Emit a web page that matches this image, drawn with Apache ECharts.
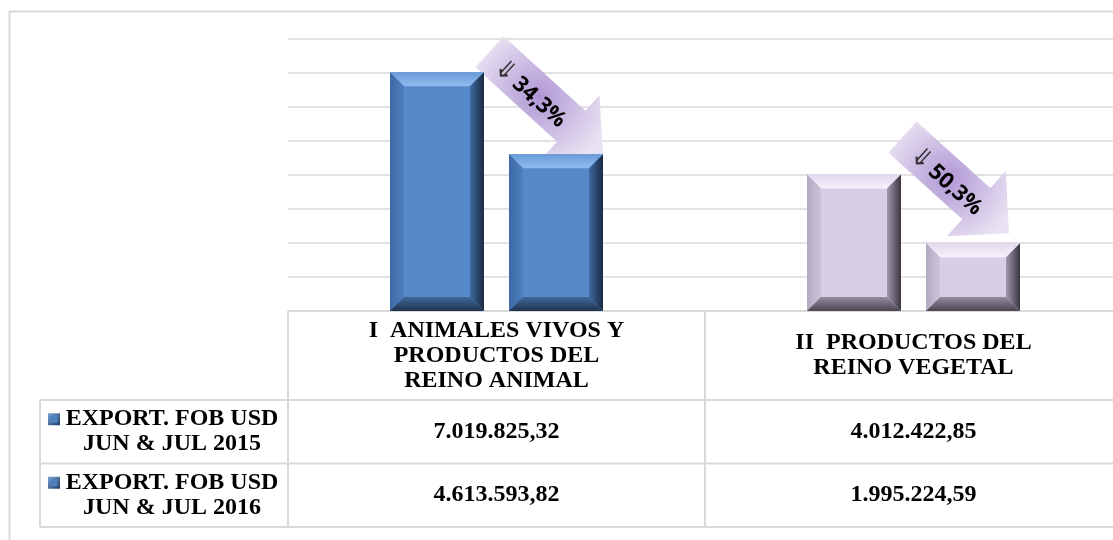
<!DOCTYPE html>
<html><head><meta charset="utf-8">
<style>html,body{margin:0;padding:0;background:#fff}#chart{width:1113px;height:540px}</style>
<script src="https://cdn.jsdelivr.net/npm/echarts@6.0.0/dist/echarts.min.js"></script>
</head><body><div id="chart"></div>
<script>
// ---------------- data ----------------
const categories = ['I  ANIMALES VIVOS Y\nPRODUCTOS DEL\nREINO ANIMAL', 'II  PRODUCTOS DEL\nREINO VEGETAL'];
const seriesNames = ['EXPORT. FOB USD\nJUN & JUL 2015', 'EXPORT. FOB USD\nJUN & JUL 2016'];
const exports2015 = [7019825.32, 4012422.85];
const exports2016 = [4613593.82, 1995224.59];
const yMin = 0, yMax = 8000000, yInterval = 1000000;

// ---------------- layout / style ----------------
const GRID = {left: 288, top: 39, width: 834, height: 272};
const TABLE = {left: 40, headerH: 89, rowH: 63.5};
const BAR_FRAC = 0.2254, GAP_FRAC = 0.06, BEVEL = 14;
const SERIF = '"Liberation Serif", "Times New Roman", serif';
const FS = 24;
const LINE = '#d9d9d9';
const barPalettes = [
  {face:'#5589c9', top:['#6a9bd8','#8fbcf0'], left:['#3d6aa3','#4d80c0'], right:['#3f6aa0','#1a2a42'], bottom:['#406898','#1f3350']},
  {face:'#d8cfe6', top:['#e2d9ee','#f7f2fc'], left:['#b3a9c1','#cdc3da'], right:['#a198ad','#3a3540'], bottom:['#958ca0','#4b4551']}
];
const arrowLayout = [
  {tail:[5.5,-20.5], tip:[0,1], shaftHalf:21, headHalf:42, headLen:43, textAt:58, textOff:4},
  {tail:[1.5,-37.5], tip:[-11,-10], shaftHalf:21, headHalf:44, headLen:44, textAt:62, textOff:4}
];

function fmt(v){
  const parts = v.toFixed(2).split('.');
  return parts[0].replace(/\B(?=(\d{3})+(?!\d))/g, '.') + ',' + parts[1];
}
function pct(a, b){ return (Math.round((1 - b / a) * 1000) / 10).toFixed(1).replace('.', ','); }

const LG = echarts.graphic.LinearGradient;
function grad(horizontal, c0, c1){
  return new LG(0, 0, horizontal ? 1 : 0, horizontal ? 0 : 1, [{offset:0,color:c0},{offset:1,color:c1}]);
}

function renderBevelBar(params, api){
  const cat = api.value(0), val = api.value(1);
  const base = api.coord([cat, 0]);
  const top = api.coord([cat, val]);
  const band = api.size([1, 0])[0];
  const barW = band * BAR_FRAC, gap = band * GAP_FRAC;
  const cx = base[0] + (params.seriesIndex === 0 ? -1 : 1) * (barW + gap) / 2;
  const x0 = cx - barW / 2, x1 = cx + barW / 2, y0 = top[1], y1 = base[1];
  const b = Math.min(BEVEL, (y1 - y0) / 2.5, barW / 3);
  const p = barPalettes[cat];
  return {type:'group', children:[
    {type:'rect', shape:{x:x0, y:y0, width:x1-x0, height:y1-y0}, style:{fill:p.face}},
    {type:'polygon', shape:{points:[[x0,y0],[x1,y0],[x1-b,y0+b],[x0+b,y0+b]]}, style:{fill:grad(false, p.top[0], p.top[1])}},
    {type:'polygon', shape:{points:[[x0,y0],[x0+b,y0+b],[x0+b,y1-b],[x0,y1]]}, style:{fill:grad(true, p.left[0], p.left[1])}},
    {type:'polygon', shape:{points:[[x1-b,y0+b],[x1,y0],[x1,y1],[x1-b,y1-b]]}, style:{fill:grad(true, p.right[0], p.right[1])}},
    {type:'polygon', shape:{points:[[x0+b,y1-b],[x1-b,y1-b],[x1,y1],[x0,y1]]}, style:{fill:grad(false, p.bottom[0], p.bottom[1])}}
  ]};
}

const baseY = GRID.top + GRID.height;
const row1Mid = baseY + TABLE.headerH + TABLE.rowH / 2;
const row2Mid = baseY + TABLE.headerH + TABLE.rowH * 1.5;

const hiddenAxis = {show:true, axisLine:{show:false}, axisTick:{show:false}, splitLine:{show:false}};
const valueLabel = {interval:0, color:'#000', fontFamily:SERIF, fontWeight:'bold', fontSize:FS, verticalAlign:'middle'};

const chart = echarts.init(document.getElementById('chart'), null, {renderer:'canvas'});
chart.setOption({
  animation:false,
  backgroundColor:'#fff',
  grid:{left:GRID.left, top:GRID.top, width:GRID.width, height:GRID.height, outerBoundsMode:'none', containLabel:false},
  xAxis:[
    Object.assign({}, hiddenAxis, {type:'category', data:categories, position:'bottom',
      axisLabel:{interval:0, color:'#000', fontFamily:SERIF, fontWeight:'bold', fontSize:FS, lineHeight:25, align:'center', verticalAlign:'middle', margin:TABLE.headerH/2}}),
    Object.assign({}, hiddenAxis, {type:'category', data:exports2015.map(fmt), position:'bottom', offset:0,
      axisLabel:Object.assign({}, valueLabel, {margin:row1Mid - baseY})}),
    Object.assign({}, hiddenAxis, {type:'category', data:exports2016.map(fmt), position:'bottom', offset:0,
      axisLabel:Object.assign({}, valueLabel, {margin:row2Mid - baseY})})
  ],
  yAxis:{type:'value', min:yMin, max:yMax, interval:yInterval,
    axisLabel:{show:false}, axisLine:{show:false}, axisTick:{show:false},
    splitLine:{lineStyle:{color:LINE, width:1.5}}},
  series:[
    {name:seriesNames[0], type:'custom', renderItem:renderBevelBar, data:exports2015.map((v,i)=>[i,v]), encode:{x:0,y:1}},
    {name:seriesNames[1], type:'custom', renderItem:renderBevelBar, data:exports2016.map((v,i)=>[i,v]), encode:{x:0,y:1}}
  ]
});

// ---------------- table, legend keys, arrows ----------------
const band = GRID.width / categories.length;
const barW = band * BAR_FRAC, gap = band * GAP_FRAC;
const gRight = GRID.left + GRID.width;
const r0 = baseY, r1 = baseY + TABLE.headerH, r2 = r1 + TABLE.rowH, r3 = r2 + TABLE.rowH;
const graphics = [];
function hline(x0, x1, y){ graphics.push({type:'line', silent:true, shape:{x1:x0, y1:y, x2:x1, y2:y}, style:{stroke:LINE, lineWidth:2}}); }
function vline(x, y0, y1){ graphics.push({type:'line', silent:true, shape:{x1:x, y1:y0, x2:x, y2:y1}, style:{stroke:LINE, lineWidth:2}}); }
// outer chart frame
hline(9, 1113, 11.5); vline(9.5, 11, 540);
// table
hline(GRID.left, gRight, r0);
hline(TABLE.left, gRight, r1); hline(TABLE.left, gRight, r2); hline(TABLE.left, gRight, r3);
vline(TABLE.left, r1, r3);
for (let i = 0; i <= categories.length; i++) vline(GRID.left + band * i, r0, r3);
// row headers with legend keys
[row1Mid, row2Mid].forEach((mid, i) => {
  graphics.push({type:'text', silent:true, x:(TABLE.left + GRID.left) / 2 + 8, y:mid,
    style:{text:seriesNames[i], fill:'#000', font:'bold ' + FS + 'px ' + SERIF, lineHeight:25, align:'center', verticalAlign:'middle'}});
  const ky = mid - 12.5 - 6;
  graphics.push({type:'rect', silent:true, shape:{x:TABLE.left + 8, y:ky, width:12, height:12},
    style:{fill:new LG(0,0,1,1,[{offset:0,color:'#7aa5da'},{offset:1,color:'#1f3a60'}])}});
  graphics.push({type:'rect', silent:true, shape:{x:TABLE.left + 10.5, y:ky + 2.5, width:7, height:7}, style:{fill:'#4f81bd'}});
});
// arrows showing the decrease
categories.forEach((c, i) => {
  const L = arrowLayout[i];
  const c15 = chart.convertToPixel({xAxisIndex:0, yAxisIndex:0}, [i, exports2015[i]]);
  const c16 = chart.convertToPixel({xAxisIndex:0, yAxisIndex:0}, [i, exports2016[i]]);
  const b1Right = c15[0] - (barW + gap) / 2 + barW / 2;
  const b2Right = c16[0] + (barW + gap) / 2 + barW / 2;
  const T = [b1Right + L.tail[0], c15[1] + L.tail[1]];
  const P = [b2Right + L.tip[0], c16[1] + L.tip[1]];
  const len = Math.hypot(P[0] - T[0], P[1] - T[1]);
  const u = [(P[0] - T[0]) / len, (P[1] - T[1]) / len];
  const n = [-u[1], u[0]];
  const B = [P[0] - u[0] * L.headLen, P[1] - u[1] * L.headLen];
  const at = (p, k) => [p[0] + n[0] * k, p[1] + n[1] * k];
  const pts = [at(T, L.shaftHalf), at(B, L.shaftHalf), at(B, L.headHalf), P, at(B, -L.headHalf), at(B, -L.shaftHalf), at(T, -L.shaftHalf)];
  graphics.push({type:'polygon', silent:true, shape:{points:pts},
    style:{fill:{type:'radial', x:0.5, y:0.5, r:0.6, colorStops:[{offset:0,color:'#b097d4'},{offset:1,color:'#e9e2f2'}]}}});
  const tc = [T[0] + u[0] * L.textAt + n[0] * L.textOff, T[1] + u[1] * L.textAt + n[1] * L.textOff];
  graphics.push({type:'text', silent:true, x:tc[0], y:tc[1], rotation:-Math.atan2(u[1], u[0]),
    style:{text:'{a|⇓} {b|' + pct(exports2015[i], exports2016[i]) + '%}', align:'center', verticalAlign:'middle',
      rich:{a:{font:'26px "DejaVu Sans"', fill:'#333'}, b:{font:'bold 22px "Open Sans"', fill:'#000'}}}});
});
chart.setOption({graphic:{elements:graphics}});
</script>
</body></html>
